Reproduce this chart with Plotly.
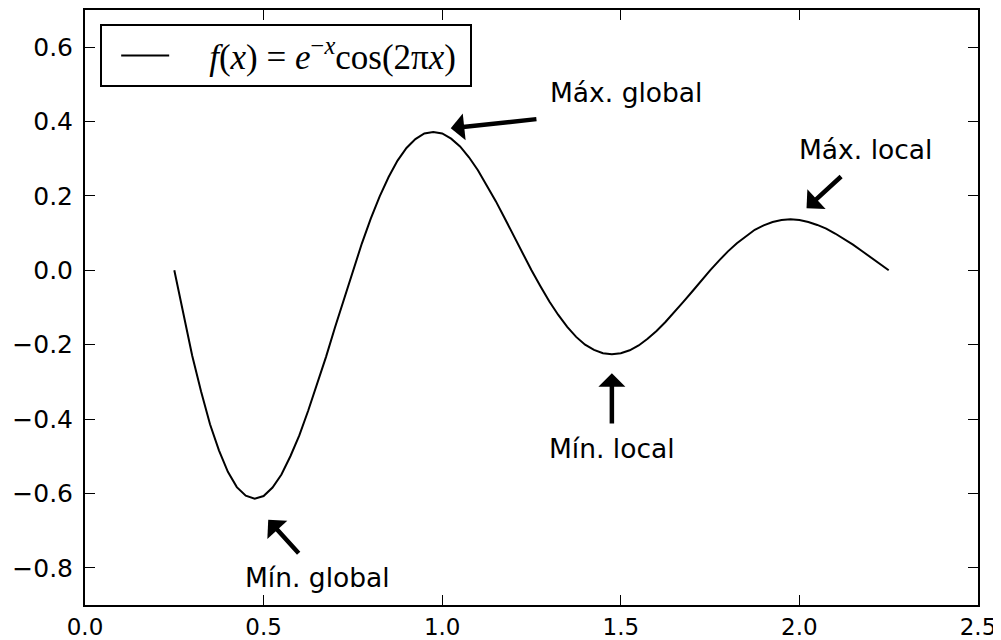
import plotly.graph_objects as go

# Curve values
x_vals = [0.250, 0.275, 0.300, 0.325, 0.350, 0.375, 0.400, 0.425, 0.450, 0.475,
          0.500, 0.525, 0.550, 0.575, 0.600, 0.625, 0.650, 0.675, 0.700, 0.725,
          0.750, 0.775, 0.800, 0.825, 0.850, 0.875, 0.900, 0.925, 0.950, 0.975,
          1.000, 1.025, 1.050, 1.075, 1.100, 1.125, 1.150, 1.175, 1.200, 1.225,
          1.250, 1.275, 1.300, 1.325, 1.350, 1.375, 1.400, 1.425, 1.450, 1.475,
          1.500, 1.525, 1.550, 1.575, 1.600, 1.625, 1.650, 1.675, 1.700, 1.725,
          1.750, 1.775, 1.800, 1.825, 1.850, 1.875, 1.900, 1.925, 1.950, 1.975,
          2.000, 2.025, 2.050, 2.075, 2.100, 2.125, 2.150, 2.175, 2.200, 2.225, 2.250]
y_vals = [0.000, -0.119, -0.229, -0.326, -0.414, -0.484, -0.542, -0.583, -0.606, -0.614,
          -0.607, -0.584, -0.549, -0.500, -0.444, -0.377, -0.307, -0.232, -0.153, -0.076,
          0.000, 0.072, 0.139, 0.199, 0.251, 0.295, 0.329, 0.353, 0.368, 0.372,
          0.368, 0.354, 0.333, 0.304, 0.269, 0.229, 0.186, 0.140, 0.093, 0.046,
          0.000, -0.043, -0.084, -0.120, -0.152, -0.179, -0.200, -0.214, -0.223, -0.226,
          -0.223, -0.215, -0.202, -0.184, -0.163, -0.139, -0.113, -0.085, -0.057, -0.028,
          0.000, 0.026, 0.051, 0.073, 0.092, 0.109, 0.121, 0.130, 0.135, 0.137,
          0.135, 0.130, 0.122, 0.112, 0.099, 0.085, 0.069, 0.052, 0.034, 0.017, 0.000]

series_name = "<i>f</i>(<i>x</i>) = <i>e</i><sup>−<i>x</i></sup>cos(2π<i>x</i>)"

# Annotations: label, arrow tip (x, y), arrow tail (x, y), text position (x, y)
ann_labels = ["Máx. global", "Máx. local", "Mín. local", "Mín. global"]
ann_tip_x = [1.024, 2.020, 1.475, 0.513]
ann_tip_y = [0.382, 0.167, -0.277, -0.671]
ann_tail_x = [1.268, 2.121, 1.475, 0.602]
ann_tail_y = [0.407, 0.256, -0.416, -0.765]
ann_text_x = [1.296, 1.994, 1.294, 0.443]
ann_text_y = [0.477, 0.325, -0.478, -0.826]

x_ticks = [0.0, 0.5, 1.0, 1.5, 2.0, 2.5]
y_ticks = [-0.8, -0.6, -0.4, -0.2, 0.0, 0.2, 0.4, 0.6]

fig = go.Figure()
fig.add_trace(go.Scatter(
    x=x_vals, y=y_vals, mode="lines",
    line=dict(color="black", width=2),
    name="\u00a0\u00a0\u00a0\u00a0" + series_name + "\u00a0",
    showlegend=True,
))

annotations = []
for lab, tx, ty, sx, sy, lx, ly in zip(ann_labels, ann_tip_x, ann_tip_y,
                                       ann_tail_x, ann_tail_y, ann_text_x, ann_text_y):
    annotations.append(dict(
        x=tx, y=ty, ax=sx, ay=sy, xref="x", yref="y", axref="x", ayref="y",
        text="", showarrow=True, arrowhead=1, arrowwidth=4.5, arrowsize=1.0,
        arrowcolor="black", standoff=0, startstandoff=0,
    ))
    annotations.append(dict(
        x=lx, y=ly, xref="x", yref="y", text=lab, showarrow=False,
        xanchor="left", yanchor="middle",
        font=dict(family="DejaVu Sans", size=26.5, color="black"),
    ))

axis_common = dict(
    showgrid=False, zeroline=False, showline=True, linecolor="black", linewidth=2,
    mirror="ticks", ticks="inside", ticklen=10, tickwidth=1, tickcolor="black",
    automargin=False,
)

# page body has an 8px margin, so the figure is sized/offset to compensate
fig.update_layout(
    width=993, height=632,
    margin=dict(l=77, r=23, t=2, b=35),
    paper_bgcolor="white", plot_bgcolor="white",
    xaxis=dict(range=[0, 2.5], tickvals=x_ticks, tickformat=".1f", ticklabelstandoff=0,
               tickfont=dict(family="DejaVu Sans", size=23, color="black"), **axis_common),
    yaxis=dict(range=[-0.9, 0.7], tickvals=y_ticks, tickformat=".1f", ticklabelstandoff=5,
               tickfont=dict(family="DejaVu Sans", size=25, color="black"), **axis_common),
    legend=dict(
        x=0.017, y=0.976, xanchor="left", yanchor="top",
        bordercolor="black", borderwidth=2, bgcolor="white",
        font=dict(family="Liberation Serif", size=35, color="black"),
        itemwidth=48, indentation=14,
    ),
    annotations=annotations,
    showlegend=True,
)

fig.write_html("out.html")
